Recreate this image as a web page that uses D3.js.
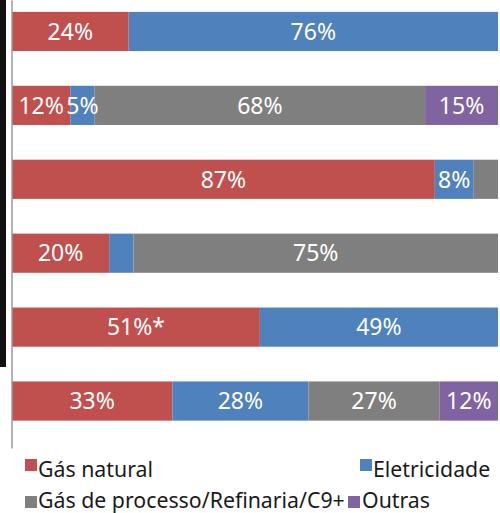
<!DOCTYPE html>
<html>
<head>
<meta charset="utf-8">
<script src="https://cdn.jsdelivr.net/npm/d3@7"></script>
<style>
  html, body { margin: 0; padding: 0; background: #fff; }
  svg { display: block; }
  text { font-family: "Noto Sans", "Open Sans", sans-serif; }
</style>
</head>
<body>
<div id="chart"></div>
<script>
// ---- data ----
const categories = ["1", "2", "3", "4", "5", "6"];
const seriesNames = ["Gás natural", "Eletricidade", "Gás de processo/Refinaria/C9+", "Outras"];
const gasNatural   = [24, 12, 87, 20, 51, 33];
const eletricidade = [76,  5,  8,  5, 49, 28];
const gasProcesso  = [ 0, 68,  5, 75,  0, 27];
const outras       = [ 0, 15,  0,  0,  0, 12];
const gasNaturalLabels   = ["24%", "12%", "87%", "20%", "51%*", "33%"];
const eletricidadeLabels = ["76%", "5%", "8%", "", "49%", "28%"];
const gasProcessoLabels  = ["", "68%", "", "75%", "", "27%"];
const outrasLabels       = ["", "15%", "", "", "", "12%"];
const colors = ["#C0504D", "#4F81BD", "#7F7F7F", "#8064A2"];

// ---- build table ----
const values = [gasNatural, eletricidade, gasProcesso, outras];
const labels = [gasNaturalLabels, eletricidadeLabels, gasProcessoLabels, outrasLabels];
const table = categories.map((c, i) => {
  const row = { cat: c };
  seriesNames.forEach((s, k) => { row[s] = values[k][i]; });
  return row;
});

const W = 500, H = 513;
const svg = d3.select("#chart").append("svg").attr("width", W).attr("height", H);

// left dark strip (scan artifact)
svg.append("rect").attr("x", 0).attr("y", 0).attr("width", 6).attr("height", 367).attr("fill", "#111");

const x = d3.scaleLinear().domain([0, 100]).range([12, 498]);
const y = d3.scaleBand().domain(categories).range([-5.5, 438]).paddingInner(0.47).paddingOuter(0.235);

const stack = d3.stack().keys(seriesNames)(table);

const g = svg.append("g");
stack.forEach((layer, k) => {
  const lg = g.append("g").attr("fill", colors[k]);
  lg.selectAll("rect").data(layer).join("rect")
    .attr("x", d => x(d[0]))
    .attr("y", d => y(d.data.cat))
    .attr("width", d => x(d[1]) - x(d[0]))
    .attr("height", y.bandwidth());
});

// labels
stack.forEach((layer, k) => {
  g.append("g").selectAll("text").data(layer).join("text")
    .attr("x", d => (x(d[0]) + x(d[1])) / 2)
    .attr("y", d => y(d.data.cat) + y.bandwidth() / 2)
    .attr("dy", "0.36em")
    .attr("text-anchor", "middle")
    .attr("fill", "#fff")
    .attr("font-size", 23)
    .text((d, i) => labels[k][i]);
});

// vertical axis line
const yAxis = d3.axisLeft(d3.scaleLinear().domain([0, 1]).range([448, 0])).ticks(0).tickSize(0).tickFormat("");
svg.append("g").attr("transform", "translate(11.5,0)").call(yAxis)
  .select(".domain").attr("stroke", "#9a9a9a").attr("stroke-width", 1.5);

// legend
const legendPos = [
  { sx: 25, sy: 459, tx: 38, ty: 477 },
  { sx: 360, sy: 459, tx: 373, ty: 477 },
  { sx: 25, sy: 496, tx: 38, ty: 508 },
  { sx: 348, sy: 496, tx: 362, ty: 508 }
];
const leg = svg.append("g");
seriesNames.forEach((s, k) => {
  const p = legendPos[k];
  leg.append("rect").attr("x", p.sx).attr("y", p.sy).attr("width", 12).attr("height", 12).attr("fill", colors[k]);
  leg.append("text").attr("x", p.tx).attr("y", p.ty).attr("font-size", 21.3).attr("fill", "#1a1a1a").text(s);
});
</script>
</body>
</html>
